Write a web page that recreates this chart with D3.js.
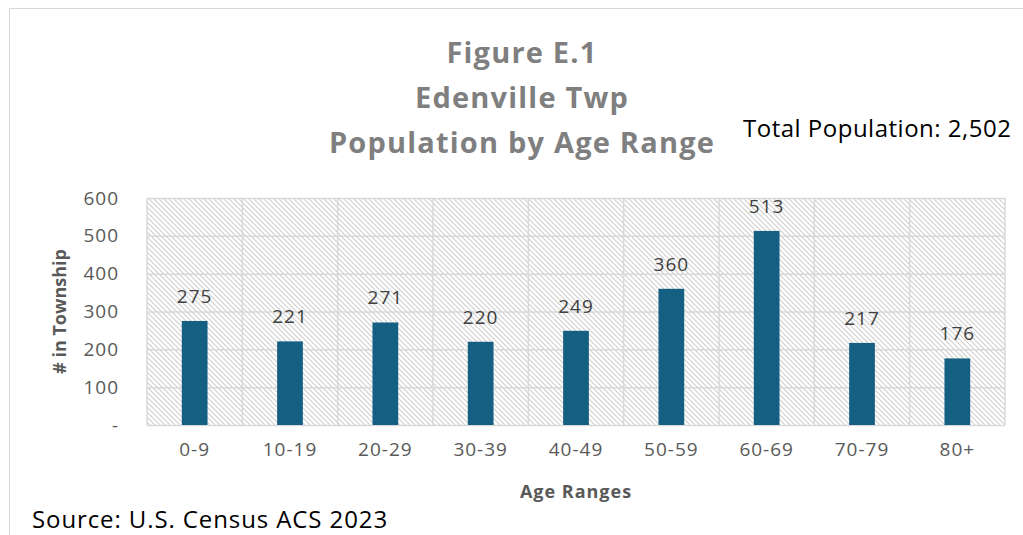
<!DOCTYPE html>
<html>
<head>
<meta charset="utf-8">
<script src="https://cdn.jsdelivr.net/npm/d3@7"></script>
<style>
  html, body { margin: 0; padding: 0; background: #fff; }
  svg { display: block; }
  text { font-family: "Open Sans", "Liberation Sans", sans-serif; }
</style>
</head>
<body>
<script>
// Population counts per age band
const ageRanges = ["0-9", "10-19", "20-29", "30-39", "40-49", "50-59", "60-69", "70-79", "80+"];
const population = [275, 221, 271, 220, 249, 360, 513, 217, 176];
const yTicks = [0, 100, 200, 300, 400, 500, 600];
const titleLines = ["Figure E.1", "Edenville Twp", "Population by Age Range"];
const totalLabel = "Total Population: 2,502";
const sourceLabel = "Source: U.S. Census ACS 2023";

const W = 1023, H = 535;
const plot = { left: 147, right: 1005, top: 198, bottom: 425 };
const FONT = "'Open Sans', sans-serif";

const svg = d3.select("body").append("svg")
  .attr("width", W).attr("height", H);

// Diagonal hatch fill for the plot area
const defs = svg.append("defs");
const pat = defs.append("pattern")
  .attr("id", "hatch")
  .attr("patternUnits", "userSpaceOnUse")
  .attr("width", 5).attr("height", 5);
pat.append("rect").attr("width", 5).attr("height", 5).attr("fill", "#fff");
pat.append("path")
  .attr("d", "M-1,-1L6,6M-1,4L1,6M4,-1L6,1")
  .attr("stroke", "#cfcfcf").attr("stroke-width", 1.1);

// Outer chart frame (extends beyond the right/bottom edges)
svg.append("rect")
  .attr("x", 9.5).attr("y", 8.5)
  .attr("width", W + 20).attr("height", H + 20)
  .attr("fill", "none").attr("stroke", "#d9d9d9").attr("stroke-width", 1);

const x = d3.scaleBand().domain(ageRanges).range([plot.left, plot.right]).padding(0);
const y = d3.scaleLinear().domain([0, 600]).range([plot.bottom, plot.top]);

// Plot background
svg.append("rect")
  .attr("x", plot.left).attr("y", plot.top)
  .attr("width", plot.right - plot.left).attr("height", plot.bottom - plot.top)
  .attr("fill", "url(#hatch)");

// Horizontal gridlines
const gridColor = "#d9d9d9";
svg.append("g")
  .attr("transform", `translate(${plot.left},0)`)
  .call(d3.axisLeft(y).tickValues(yTicks).tickSize(-(plot.right - plot.left)).tickFormat(""))
  .call(g => g.select(".domain").remove())
  .call(g => g.selectAll(".tick line").attr("stroke", gridColor).attr("stroke-width", 1.5));

// Vertical gridlines at category boundaries
const bounds = ageRanges.map(d => x(d)).concat([plot.right]);
svg.append("g").selectAll("line").data(bounds).join("line")
  .attr("x1", d => d).attr("x2", d => d)
  .attr("y1", plot.top).attr("y2", plot.bottom)
  .attr("stroke", gridColor).attr("stroke-width", 1.5);

// Y tick labels
svg.append("g")
  .attr("transform", `translate(${plot.left},0)`)
  .call(d3.axisLeft(y).tickValues(yTicks).tickSize(0).tickPadding(28)
    .tickFormat(d => d === 0 ? "-" : d3.format(",")(d)))
  .call(g => g.select(".domain").remove())
  .call(g => g.selectAll("text")
    .attr("fill", "#595959").style("font-size", "19px")
    .style("letter-spacing", "1px")
    .style("font-family", FONT));

// X tick labels
svg.append("g")
  .attr("transform", `translate(0,${plot.bottom})`)
  .call(d3.axisBottom(x).tickSize(0).tickPadding(18))
  .call(g => g.select(".domain").remove())
  .call(g => g.selectAll("text")
    .attr("fill", "#595959").style("font-size", "19px")
    .style("letter-spacing", "1px")
    .style("font-family", FONT));

// Bars
const barW = x.bandwidth() * 0.27;
svg.append("g").selectAll("rect").data(population).join("rect")
  .attr("x", (d, i) => x(ageRanges[i]) + (x.bandwidth() - barW) / 2)
  .attr("y", d => y(d))
  .attr("width", barW)
  .attr("height", d => y(0) - y(d))
  .attr("fill", "#156082");

// Value labels
svg.append("g").selectAll("text").data(population).join("text")
  .attr("x", (d, i) => x(ageRanges[i]) + x.bandwidth() / 2)
  .attr("y", d => y(d) - 18)
  .attr("text-anchor", "middle")
  .attr("fill", "#404040")
  .style("font-size", "19px")
  .style("letter-spacing", "1px")
  .text(d => d);

// Title
svg.append("g").selectAll("text").data(titleLines).join("text")
  .attr("x", 522)
  .attr("y", (d, i) => 63 + i * 45)
  .attr("text-anchor", "middle")
  .attr("fill", "#7f7f7f")
  .style("font-size", "29px")
  .style("font-weight", "bold")
  .style("letter-spacing", "1.2px")
  .text(d => d);

// Total population note
svg.append("text")
  .attr("x", 743).attr("y", 137)
  .attr("fill", "#000")
  .style("font-size", "24px")
  .style("letter-spacing", "0.5px")
  .text(totalLabel);

// Axis titles
svg.append("text")
  .attr("x", (plot.left + plot.right) / 2).attr("y", 498)
  .attr("text-anchor", "middle")
  .attr("fill", "#595959")
  .style("font-size", "18px").style("font-weight", "bold")
  .style("letter-spacing", "1px")
  .text("Age Ranges");

svg.append("text")
  .attr("transform", `translate(66,${(plot.top + plot.bottom) / 2}) rotate(-90)`)
  .attr("text-anchor", "middle")
  .attr("fill", "#595959")
  .style("font-size", "18px").style("font-weight", "bold")
  .text("# in Township");

// Source note
svg.append("text")
  .attr("x", 32).attr("y", 528)
  .attr("fill", "#000")
  .style("font-size", "24px")
  .style("letter-spacing", "0.9px")
  .text(sourceLabel);
</script>
</body>
</html>
